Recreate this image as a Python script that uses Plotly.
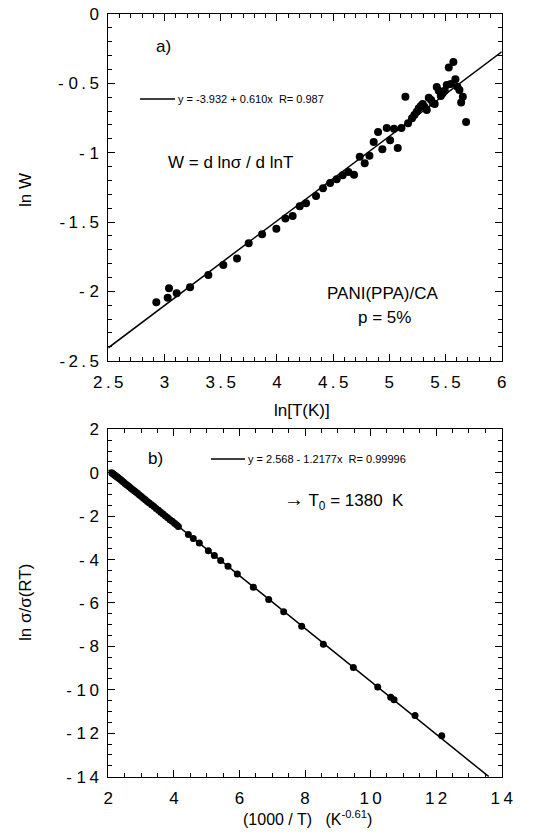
import plotly.graph_objects as go

# ---------------- Panel a) data ----------------
lnT = [2.927, 3.028, 3.040, 3.108, 3.227, 3.390, 3.523, 3.645, 3.749, 3.868,
       3.995, 4.075, 4.140, 4.203, 4.259, 4.348, 4.410, 4.473, 4.532, 4.585,
       4.636, 4.686, 4.737, 4.781, 4.823, 4.861, 4.900, 4.938, 4.977, 5.007,
       5.042, 5.075, 5.108, 5.143, 5.167, 5.202, 5.223, 5.244, 5.262, 5.280,
       5.297, 5.312, 5.333, 5.351, 5.372, 5.389, 5.404, 5.422, 5.440, 5.458,
       5.475, 5.493, 5.511, 5.529, 5.547, 5.570, 5.588, 5.606, 5.624, 5.639,
       5.654, 5.683]
lnW = [-2.079, -2.046, -1.978, -2.014, -1.971, -1.882, -1.810, -1.764, -1.654, -1.589,
       -1.548, -1.474, -1.457, -1.387, -1.365, -1.313, -1.257, -1.219, -1.192, -1.163,
       -1.139, -1.159, -1.029, -1.077, -1.022, -0.923, -0.851, -0.976, -0.822, -0.911,
       -0.827, -0.966, -0.822, -0.596, -0.788, -0.752, -0.728, -0.704, -0.680, -0.663,
       -0.649, -0.668, -0.692, -0.603, -0.620, -0.644, -0.649, -0.526, -0.553, -0.591,
       -0.572, -0.553, -0.512, -0.385, -0.505, -0.346, -0.471, -0.524, -0.548, -0.639,
       -0.596, -0.779]
fit_a_x = [2.5, 6.0]
fit_a_y = [-2.407, -0.272]

# ---------------- Panel b) data ----------------
invT = [2.10, 2.13, 2.16, 2.19, 2.22, 2.25, 2.28, 2.31, 2.35, 2.39,
        2.43, 2.47, 2.51, 2.55, 2.59, 2.64, 2.69, 2.74, 2.79, 2.84,
        2.89, 2.95, 3.01, 3.07, 3.13, 3.19, 3.25, 3.32, 3.39, 3.46,
        3.53, 3.60, 3.67, 3.74, 3.81, 3.88, 3.95, 4.02, 4.08,
        4.136, 4.441, 4.593, 4.776, 5.051, 5.234, 5.427, 5.651, 5.936, 6.424,
        6.892, 7.349, 7.898, 8.560, 9.475, 10.217, 10.614, 10.716, 11.356, 12.170]
lnSig = [0.00, -0.03, -0.07, -0.10, -0.14, -0.17, -0.21, -0.24, -0.29, -0.34,
         -0.39, -0.44, -0.49, -0.54, -0.59, -0.65, -0.71, -0.77, -0.83, -0.89,
         -0.95, -1.02, -1.10, -1.17, -1.24, -1.32, -1.39, -1.48, -1.56, -1.65,
         -1.73, -1.82, -1.90, -1.99, -2.07, -2.16, -2.24, -2.33, -2.40,
         -2.48, -2.84, -3.03, -3.24, -3.59, -3.81, -4.04, -4.31, -4.66, -5.27,
         -5.84, -6.40, -7.07, -7.90, -8.97, -9.87, -10.34, -10.46, -11.18, -12.12]
fit_b_x = [2.0, 13.607]
fit_b_y = [0.133, -14.0]

# tick labels
a_xticks = [2.5, 3, 3.5, 4, 4.5, 5, 5.5, 6]
a_xtext = ["2.5", "3", "3.5", "4", "4.5", "5", "5.5", "6"]
a_yticks = [-2.5, -2, -1.5, -1, -0.5, 0]
a_ytext = ["-2.5", "- 2", "-1.5", "- 1", "- 0.5", "0"]
b_xticks = [2, 4, 6, 8, 10, 12, 14]
b_xtext = ["2", "4", "6", "8", "10", "12", "14"]
b_yticks = [2, 0, -2, -4, -6, -8, -10, -12, -14]
b_ytext = ["2", "0", "- 2", "- 4", "- 6", "- 8", "- 10", "- 12", "- 14"]

W, H = 540, 839
FONT = "Liberation Sans, Arial, sans-serif"
BLK = "#000000"
THIN = "\u2009"


def spaced(labels):
    out = []
    for s in labels:
        chars = [c for c in s if c != " "]
        if s.startswith("- "):
            out.append(chars[0] + " " + THIN.join(chars[1:]))
        else:
            out.append(THIN.join(chars))
    return out


fig = go.Figure()
fig.add_trace(go.Scatter(x=fit_a_x, y=fit_a_y, mode="lines",
                         line=dict(color=BLK, width=1.5), xaxis="x", yaxis="y",
                         showlegend=False, hoverinfo="skip"))
fig.add_trace(go.Scatter(x=lnT, y=lnW, mode="markers",
                         marker=dict(color=BLK, size=8), xaxis="x", yaxis="y",
                         showlegend=False))
fig.add_trace(go.Scatter(x=fit_b_x, y=fit_b_y, mode="lines",
                         line=dict(color=BLK, width=1.5), xaxis="x2", yaxis="y2",
                         showlegend=False, hoverinfo="skip"))
fig.add_trace(go.Scatter(x=invT, y=lnSig, mode="markers",
                         marker=dict(color=BLK, size=7), xaxis="x2", yaxis="y2",
                         showlegend=False))


def ax(domain, rng, tv, tt, minor_dt, anchor, standoff):
    return dict(domain=domain, range=rng, tickvals=tv, ticktext=spaced(tt),
                automargin=False,
                showline=True, linecolor=BLK, linewidth=1, mirror="ticks",
                ticks="inside", ticklen=7, tickwidth=1, tickcolor=BLK,
                minor=dict(dtick=minor_dt, ticks="inside", ticklen=4,
                           tickwidth=1, tickcolor=BLK, showgrid=False),
                showgrid=False, zeroline=False, anchor=anchor,
                ticklabelstandoff=standoff,
                tickfont=dict(family=FONT, size=17, color=BLK))


xd = [0.2006, 0.9291]
fig.update_layout(
    template="none",
    width=W, height=H, margin=dict(l=0, r=0, t=0, b=0, pad=0, autoexpand=False),
    paper_bgcolor="white", plot_bgcolor="white", showlegend=False,
    xaxis=ax(xd, [2.5, 6], a_xticks, a_xtext, 0.1, "y", 6),
    yaxis=ax([0.5701, 0.9833], [-2.5, 0], a_yticks, a_ytext, 0.1, "x", 5),
    xaxis2=ax(xd, [2, 14], b_xticks, b_xtext, 0.5, "y2", 6),
    yaxis2=ax([0.0743, 0.4883], [-14, 2], b_yticks, b_ytext, 0.5, "x2", 5),
)


def ann(x, y, text, size=16, angle=0, xanchor="center"):
    fig.add_annotation(x=x / W, y=1 - y / H, xref="paper", yref="paper",
                       text=text, showarrow=False, textangle=angle,
                       xanchor=xanchor, yanchor="middle",
                       font=dict(family=FONT, size=size, color=BLK))


# panel a texts
ann(163, 47, "a)", 17)
ann(176, 99, "y = -3.932 + 0.610x  R= 0.987", 11, xanchor="left")
ann(230, 163, "W = d lnσ / d lnT", 17)
ann(382, 293, "PANI(PPA)/CA", 17)
ann(385, 318, "p = 5%", 17)
ann(25, 190, "ln W", 17, angle=-90)
ann(302, 411, "ln[T(K)]", 17)

# panel b texts
ann(156, 458, "b)", 17)
ann(246, 459, "y = 2.568 - 1.2177x  R= 0.99996", 11, xanchor="left")
ann(282, 500, "<span style='font-size:20px'>→</span> T<sub>0</sub> = 1380  K", 17,
    xanchor="left")
ann(25, 603, "ln σ/σ(RT)", 17, angle=-90)
ann(307, 818, "(1000 / T)   (K<sup>-0.61</sup>)", 16)

# legend sample lines
for (x0, x1, y) in [(140, 175, 99), (211, 245, 459)]:
    fig.add_shape(type="line", xref="paper", yref="paper",
                  x0=x0 / W, x1=x1 / W, y0=1 - y / H, y1=1 - y / H,
                  line=dict(color=BLK, width=1.5))

fig.write_html("out.html")
